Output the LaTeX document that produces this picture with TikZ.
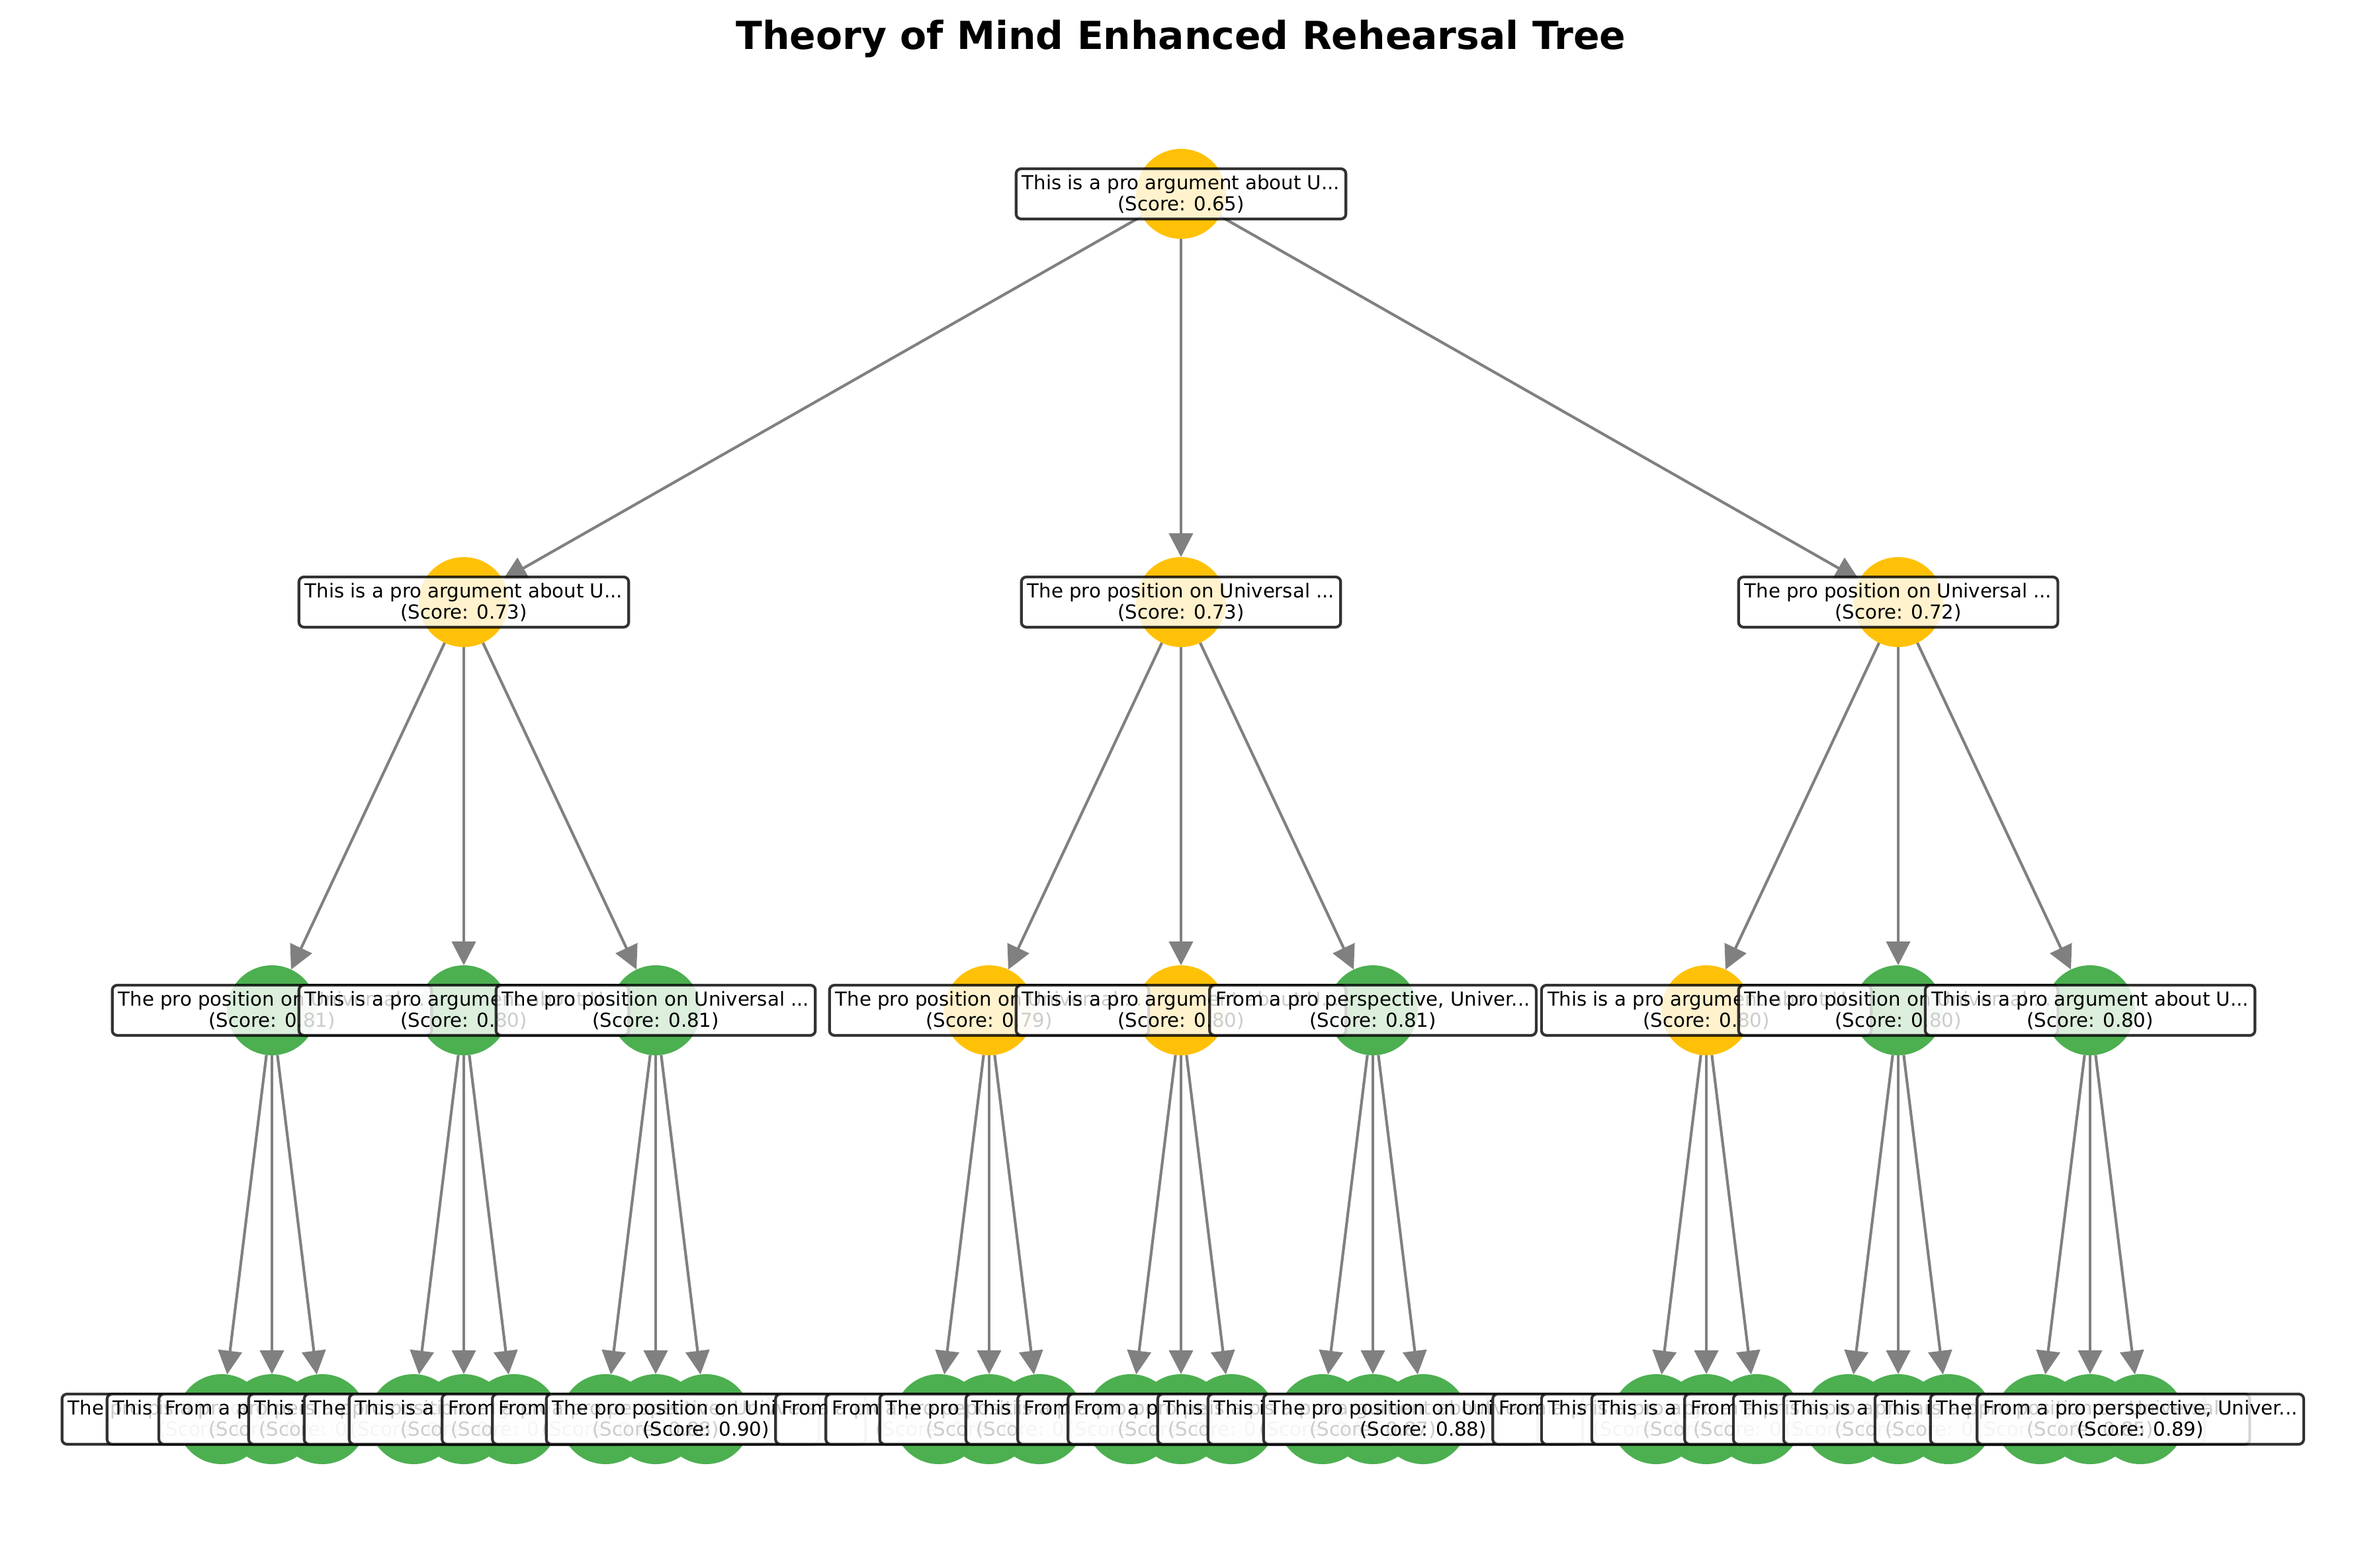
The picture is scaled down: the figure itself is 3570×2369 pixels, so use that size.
\documentclass[tikz,border=0pt]{standalone}
\usepackage{fontspec}
\setmainfont{DejaVu Sans}
\usetikzlibrary{arrows.meta}
\pgfdeclarelayer{edgelayer}
\pgfsetlayers{edgelayer,main}
\definecolor{nodeyellow}{HTML}{FFC107}
\definecolor{nodegreen}{HTML}{4CAF50}
\definecolor{edgegray}{HTML}{808080}
\newcommand{\txtA}{This is a pro argument about U...}
\newcommand{\txtB}{The pro position on Universal ...}
\newcommand{\txtC}{From a pro perspective, Univer...}
\begin{document}
\begin{tikzpicture}[x=0.24pt,y=-0.24pt,
  vertex/.style={circle, draw=none, minimum size=32.64pt, inner sep=0pt, outer sep=0pt},
  ylw/.style={vertex, fill=nodeyellow},
  grn/.style={vertex, fill=nodegreen},
  lbl/.style={draw=black, draw opacity=0.8, line width=1pt, fill=white, fill opacity=0.8, text opacity=1,
    rounded corners=1.8pt, align=center, font=\fontsize{7}{7.68}\selectfont,
    inner xsep=2.2pt, inner ysep=0pt, minimum height=18.2pt},
  link/.style={draw=edgegray, line width=1pt, -{Triangle[length=8.6pt,width=8.6pt]}},
]
\path[use as bounding box] (0,0) rectangle (3570,2369);
\node[font=\fontsize{14}{16}\selectfont\bfseries, anchor=base] (title) at (1785,74) {Theory of Mind Enhanced Rehearsal Tree};

% circles
\node[ylw] (r) at (1785,293) {};
\foreach \i/\x in {1/701,2/1785,3/2869} \node[ylw] (a\i) at (\x,910) {};
\foreach \i/\x/\s in {1/411/grn,2/701/grn,3/991/grn,4/1495/ylw,5/1785/ylw,6/2075/grn,7/2579/ylw,8/2869/grn,9/3159/grn}
  \node[\s] (b\i) at (\x,1527) {};
\foreach \i/\x in {1/411,2/701,3/991,4/1495,5/1785,6/2075,7/2579,8/2869,9/3159} {
  \foreach \j in {1,2,3} {
    \pgfmathtruncatemacro{\k}{(\i-1)*3+\j}
    \node[grn] (c\k) at ({\x+(\j-2)*76},2145) {};
  }
}

% edges
\begin{pgfonlayer}{edgelayer}
\foreach \i in {1,2,3} \draw[link] (r) -- (a\i);
\foreach \i in {1,...,9} {
  \pgfmathtruncatemacro{\p}{int((\i-1)/3)+1}
  \draw[link] (a\p) -- (b\i);
}
\foreach \k in {1,...,27} {
  \pgfmathtruncatemacro{\p}{int((\k-1)/3)+1}
  \draw[link] (b\p) -- (c\k);
}
\end{pgfonlayer}

% labels
\node[lbl] (lr) at (r) {\txtA\\(Score: 0.65)};
\foreach \i/\t/\s in {1/\txtA/0.73,2/\txtB/0.73,3/\txtB/0.72}
  \node[lbl] (la\i) at (a\i) {\t\\(Score: \s)};
\foreach \i/\t/\s in {1/\txtB/0.81,2/\txtA/0.80,3/\txtB/0.81,4/\txtB/0.79,5/\txtA/0.80,6/\txtC/0.81,7/\txtA/0.80,8/\txtB/0.80,9/\txtA/0.80}
  \node[lbl] (lb\i) at (b\i) {\t\\(Score: \s)};
\foreach \k/\t/\s in {1/\txtB/0.86,2/\txtA/0.84,3/\txtC/0.87,4/\txtA/0.85,5/\txtB/0.83,6/\txtA/0.86,7/\txtC/0.84,8/\txtC/0.88,9/\txtB/0.90,
  10/\txtC/0.86,11/\txtC/0.85,12/\txtB/0.84,13/\txtA/0.87,14/\txtC/0.86,15/\txtC/0.83,16/\txtA/0.85,17/\txtA/0.87,18/\txtB/0.88,
  19/\txtC/0.84,20/\txtA/0.86,21/\txtA/0.85,22/\txtC/0.87,23/\txtA/0.84,24/\txtA/0.86,25/\txtA/0.88,26/\txtB/0.85,27/\txtC/0.89}
  \node[lbl] (lc\k) at (c\k) {\t\\(Score: \s)};
\end{tikzpicture}
\end{document}
